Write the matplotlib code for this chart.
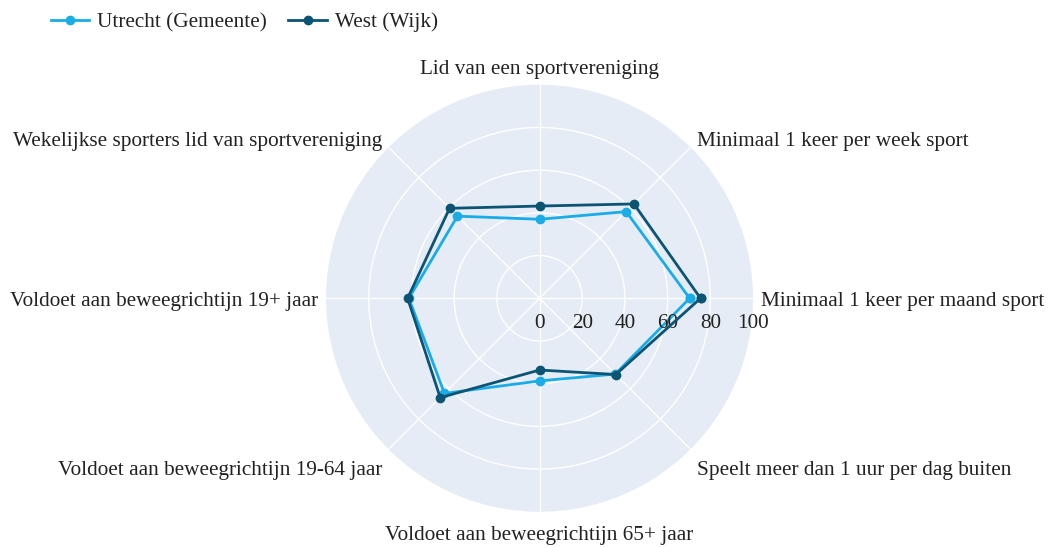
import matplotlib.pyplot as plt
import numpy as np

categories = [
    'Minimaal 1 keer per maand sport',
    'Minimaal 1 keer per week sport',
    'Lid van een sportvereniging',
    'Wekelijkse sporters lid van sportvereniging',
    'Voldoet aan beweegrichtijn 19+ jaar',
    'Voldoet aan beweegrichtijn 19-64 jaar',
    'Voldoet aan beweegrichtijn 65+ jaar',
    'Speelt meer dan 1 uur per dag buiten',
]
utrecht = [70.3, 57.4, 37.0, 54.4, 61.2, 63.0, 38.7, 50.2]
west = [75.4, 62.5, 43.2, 59.6, 61.8, 65.8, 33.6, 50.5]
r_ticks = [0, 20, 40, 60, 80, 100]

col_utrecht = '#1aace6'
col_west = '#0b5474'
text_col = '#222222'
fs = 15.3

plt.rcParams['font.family'] = ['Liberation Serif', 'DejaVu Serif']

fig = plt.figure(figsize=(10.5, 5.47), dpi=100)
ax = fig.add_axes([0.3105, 0.0644, 0.4067, 0.7806], projection='polar')
ax.set_facecolor('#e5ecf6')

angles = np.deg2rad(np.arange(len(categories)) * 45.0)
closed = np.append(angles, angles[0])

ax.plot(closed, utrecht + utrecht[:1], color=col_utrecht, lw=2, marker='o',
        ms=6, label='Utrecht (Gemeente)', zorder=3)
ax.plot(closed, west + west[:1], color=col_west, lw=2, marker='o',
        ms=6, label='West (Wijk)', zorder=4)

ax.set_ylim(0, 100)
ax.set_yticks(r_ticks[1:-1])
ax.set_yticklabels([])
ax.spines['polar'].set_visible(False)
ax.grid(color='white', lw=1)

for v in r_ticks:
    ax.annotate(str(v), (0, v), xytext=(0, -25), textcoords='offset pixels',
                ha='center', va='center', fontsize=fs, color=text_col)

# category labels just outside the outer ring
ax.set_xticks(angles)
ax.set_xticklabels([])
offsets = [(8, -3, 'left'), (6, 6, 'left'), (0, 15, 'center'), (-6, 6, 'right'),
           (-8, -3, 'right'), (-6, -21, 'right'), (0, -24, 'center'), (6, -21, 'left')]
for ang, cat, (dx, dy, ha) in zip(angles, categories, offsets):
    ax.annotate(cat, (ang, 100), xytext=(dx, dy), textcoords='offset pixels',
                ha=ha, va='center', fontsize=fs, color=text_col,
                annotation_clip=False)

fig.legend(loc='upper left', bbox_to_anchor=(0.03, 1.012), ncol=2, frameon=False,
           fontsize=fs, handlelength=1.8, columnspacing=1.0, handletextpad=0.4,
           labelcolor=text_col)

plt.savefig('out.png', dpi=100)
